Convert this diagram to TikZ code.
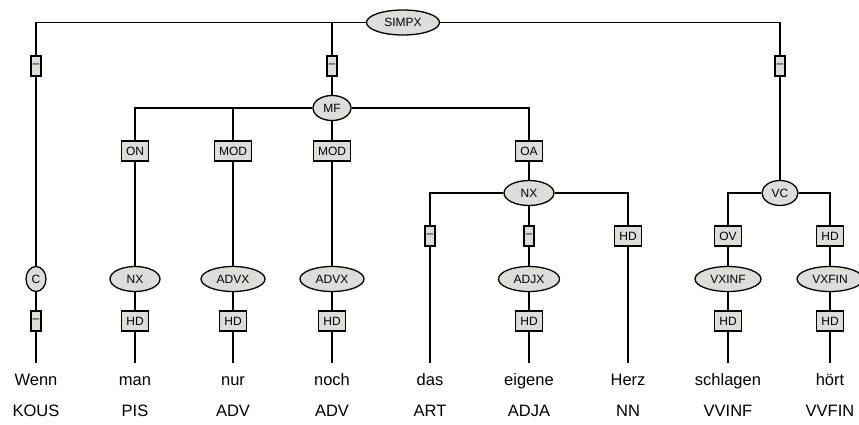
\documentclass[tikz,border=0pt]{standalone}
\usepackage{fontspec}
\setmainfont{Liberation Sans}
\usetikzlibrary{shapes.geometric,backgrounds}

\definecolor{nodefill}{RGB}{221,222,218}

\tikzset{
  cat/.style={ellipse, draw, line width=1.3pt, fill=nodefill, inner sep=0pt,
    minimum height=25pt, font=\fontsize{12}{14}\selectfont},
  fnbox/.style={rectangle, draw, line width=1.3pt, fill=nodefill, inner xsep=4.5pt,
    inner ysep=0pt, minimum height=20pt, font=\fontsize{12}{14}\selectfont},
  dashbox/.style={fnbox, inner xsep=1.6pt},
  word/.style={inner xsep=0pt, inner ysep=10pt, text height=12pt, text depth=3.5pt,
    font=\fontsize{16.5}{19}\selectfont},
  tag/.style={inner sep=0pt, text height=12pt, text depth=3.5pt,
    font=\fontsize{16.5}{19}\selectfont},
  edge/.style={line width=1.2pt}
}

\begin{document}
\begin{tikzpicture}[x=1pt, y=-1pt]
  \useasboundingbox (0,0) rectangle (859,425);
  % phrase nodes
  \node[cat, minimum width=73pt] (simpx) at (403,22.5) {SIMPX};
  \node[dashbox] (d1) at (36,66) {–};
  \node[dashbox] (d2) at (332,66) {–};
  \node[dashbox] (d3) at (780,66) {–};
  \node[cat, minimum width=20pt] (c) at (36,279) {C};
  \node[dashbox] (d4) at (36,321) {–};
  \node[cat, minimum width=38pt] (mf) at (332,108) {MF};
  \node[fnbox] (on) at (135,151) {ON};
  \node[fnbox] (mod1) at (233,151) {MOD};
  \node[fnbox] (mod2) at (332,151) {MOD};
  \node[fnbox] (oa) at (529,151) {OA};
  \node[cat, minimum width=50pt] (nx1) at (135,279) {NX};
  \node[fnbox] (hd1) at (135,321) {HD};
  \node[cat, minimum width=64pt] (advx1) at (233,279) {ADVX};
  \node[fnbox] (hd2) at (233,321) {HD};
  \node[cat, minimum width=64pt] (advx2) at (332,279) {ADVX};
  \node[fnbox] (hd3) at (332,321) {HD};
  \node[cat, minimum width=50pt] (nx2) at (529,193) {NX};
  \node[dashbox] (d5) at (430,236) {–};
  \node[dashbox] (d6) at (529,236) {–};
  \node[fnbox] (hd4) at (628,236) {HD};
  \node[cat, minimum width=61pt] (adjx) at (529,279) {ADJX};
  \node[fnbox] (hd5) at (529,321) {HD};
  \node[cat, minimum width=36pt] (vc) at (780,193) {VC};
  \node[fnbox] (ov) at (728,236) {OV};
  \node[fnbox] (hd6) at (830,236) {HD};
  \node[cat, minimum width=66pt] (vxinf) at (728,279) {VXINF};
  \node[fnbox] (hd7) at (728,321) {HD};
  \node[cat, minimum width=66pt] (vxfin) at (830,279) {VXFIN};
  \node[fnbox] (hd8) at (830,321) {HD};
  % words and tags
  \node[word] (w1) at (36,381) {Wenn};
  \node[word] (w2) at (135,381) {man};
  \node[word] (w3) at (233,381) {nur};
  \node[word] (w4) at (332,381) {noch};
  \node[word] (w5) at (430,381) {das};
  \node[word] (w6) at (529,381) {eigene};
  \node[word] (w7) at (628,381) {Herz};
  \node[word] (w8) at (728,381) {schlagen};
  \node[word] (w9) at (830,381) {hört};
  \node[tag] (t1) at (36,412.5) {KOUS};
  \node[tag] (t2) at (135,412.5) {PIS};
  \node[tag] (t3) at (233,412.5) {ADV};
  \node[tag] (t4) at (332,412.5) {ADV};
  \node[tag] (t5) at (430,412.5) {ART};
  \node[tag] (t6) at (529,412.5) {ADJA};
  \node[tag] (t7) at (628,412.5) {NN};
  \node[tag] (t8) at (728,412.5) {VVINF};
  \node[tag] (t9) at (830,412.5) {VVFIN};
  % tree edges
  \begin{scope}[on background layer]
    \draw[edge] (simpx) -| (d1);
    \draw[edge] (simpx) -| (d2);
    \draw[edge] (simpx) -| (d3);
    \draw[edge] (d1) -- (c) -- (d4) -- (w1);
    \draw[edge] (d2) -- (mf);
    \draw[edge] (d3) -- (vc);
    \draw[edge] (mf) -| (on);
    \draw[edge] (mf) -| (mod1);
    \draw[edge] (mf) -- (mod2);
    \draw[edge] (mf) -| (oa);
    \draw[edge] (on) -- (nx1) -- (hd1) -- (w2);
    \draw[edge] (mod1) -- (advx1) -- (hd2) -- (w3);
    \draw[edge] (mod2) -- (advx2) -- (hd3) -- (w4);
    \draw[edge] (oa) -- (nx2);
    \draw[edge] (nx2) -| (d5);
    \draw[edge] (nx2) -- (d6);
    \draw[edge] (nx2) -| (hd4);
    \draw[edge] (d5) -- (w5);
    \draw[edge] (d6) -- (adjx) -- (hd5) -- (w6);
    \draw[edge] (hd4) -- (w7);
    \draw[edge] (vc) -| (ov);
    \draw[edge] (vc) -| (hd6);
    \draw[edge] (ov) -- (vxinf) -- (hd7) -- (w8);
    \draw[edge] (hd6) -- (vxfin) -- (hd8) -- (w9);
  \end{scope}
\end{tikzpicture}
\end{document}
